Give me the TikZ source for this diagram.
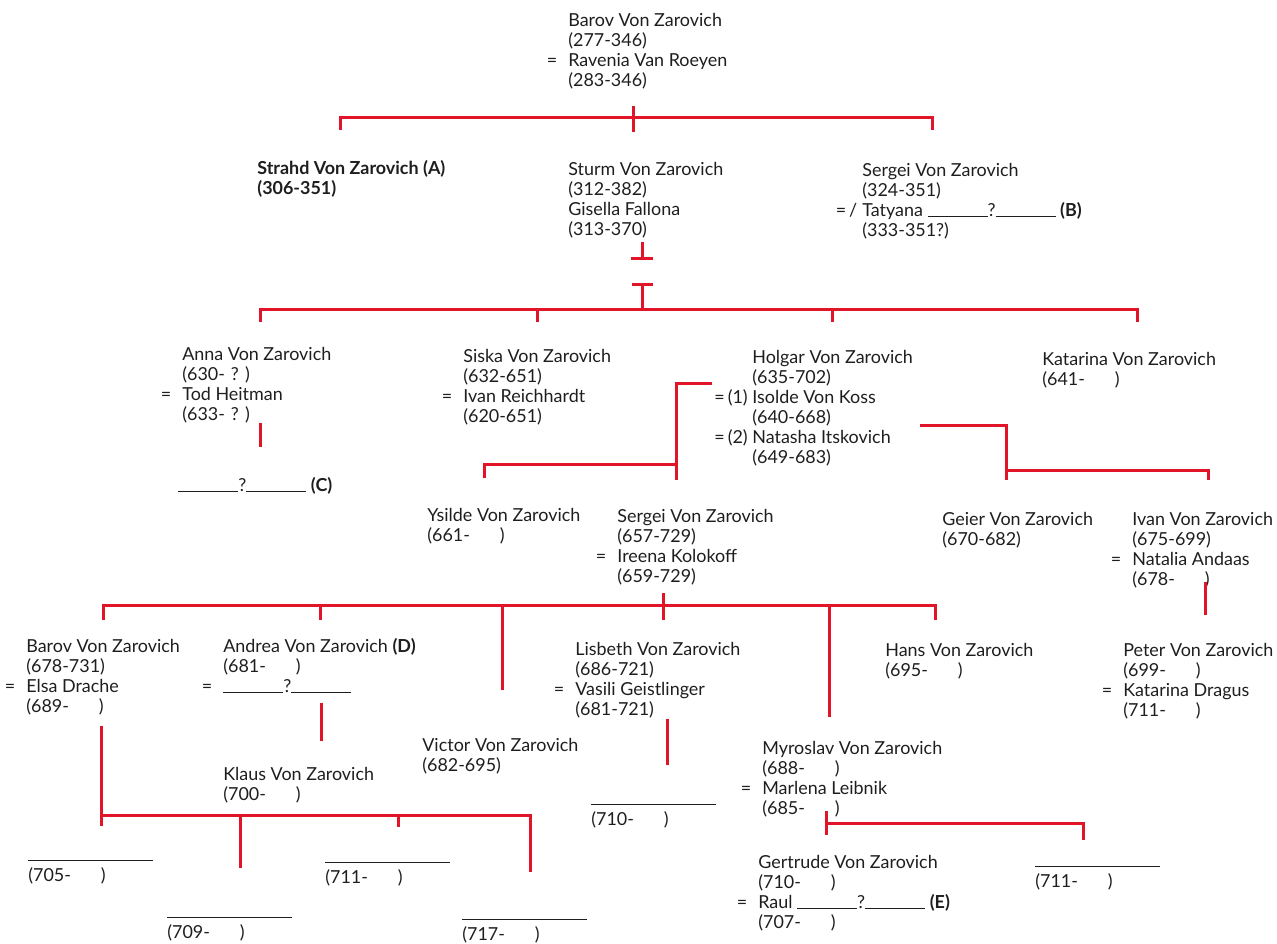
\documentclass[tikz,border=0pt]{standalone}
\usepackage{fontspec}
\setmainfont{Lato}
\definecolor{famred}{RGB}{226,20,40}
\definecolor{ink}{RGB}{30,30,30}
\newcommand{\unk}{\rule[-0.3pt]{12mm}{0.5pt}}
\newcommand{\spouse}{\llap{=\hspace{2.2mm}}}
\newcommand{\alive}{\hspace{6mm}}
\newcommand{\nameless}{\rule{25mm}{0.5pt}}
\begin{document}
\begin{tikzpicture}[x=0.2mm,y=-0.2mm,
    who/.style={anchor=north west,inner sep=0pt,align=left,text=ink,
      font=\fontsize{10.2}{11.4}\selectfont}]
  \useasboundingbox (0,0) rectangle (1277,943);
  % first generations
  \node[who] (barov) at (568,13) {Barov Von Zarovich\\(277-346)\\\spouse Ravenia Van Roeyen\\(283-346)};
  \node[who,font=\fontsize{10.2}{11.4}\selectfont\bfseries] (strahd) at (257,160) {Strahd Von Zarovich (A)\\(306-351)};
  \node[who] (sturm) at (568,162) {Sturm Von Zarovich\\(312-382)\\Gisella Fallona\\(313-370)};
  \node[who] (sergei) at (862,163) {Sergei Von Zarovich\\(324-351)\\\llap{=\,/\hspace{1mm}}Tatyana \unk?\unk\ \textbf{(B)}\\(333-351?)};
  \node[who] (anna) at (182,347) {Anna Von Zarovich\\(630-\hspace{1.2mm}?\hspace{1.2mm})\\\spouse Tod Heitman\\(633-\hspace{1.2mm}?\hspace{1.2mm})};
  \node[who] (annakid) at (178,477) {\unk?\unk\ \textbf{(C)}};
  \node[who] (siska) at (463,349) {Siska Von Zarovich\\(632-651)\\\spouse Ivan Reichhardt\\(620-651)};
  \node[who] (holgar) at (752,350) {Holgar Von Zarovich\\(635-702)\\\llap{=\,(1)\ }Isolde Von Koss\\(640-668)\\\llap{=\,(2)\ }Natasha Itskovich\\(649-683)};
  \node[who] (katarina) at (1042,352) {Katarina Von Zarovich\\(641-\alive)};
  % Holgar's children
  \node[who] (ysilde) at (427,508) {Ysilde Von Zarovich\\(661-\alive)};
  \node[who] (sergeii) at (617,509) {Sergei Von Zarovich\\(657-729)\\\spouse Ireena Kolokoff\\(659-729)};
  \node[who] (geier) at (942,512) {Geier Von Zarovich\\(670-682)};
  \node[who] (ivan) at (1132,512) {Ivan Von Zarovich\\(675-699)\\\spouse Natalia Andaas\\(678-\alive)};
  % Sergei's children
  \node[who] (baroviii) at (26,639) {Barov Von Zarovich\\(678-731)\\\spouse Elsa Drache\\(689-\alive)};
  \node[who] (andrea) at (223,638) {Andrea Von Zarovich \textbf{(D)}\\(681-\alive)\\\spouse\unk?\unk};
  \node[who] (lisbeth) at (575,642) {Lisbeth Von Zarovich\\(686-721)\\\spouse Vasili Geistlinger\\(681-721)};
  \node[who] (hans) at (885,643) {Hans Von Zarovich\\(695-\alive)};
  \node[who] (peter) at (1123,643) {Peter Von Zarovich\\(699-\alive)\\\spouse Katarina Dragus\\(711-\alive)};
  \node[who] (victor) at (422,738) {Victor Von Zarovich\\(682-695)};
  \node[who] (klaus) at (223,767) {Klaus Von Zarovich\\(700-\alive)};
  \node[who] (myroslav) at (762,741) {Myroslav Von Zarovich\\(688-\alive)\\\spouse Marlena Leibnik\\(685-\alive)};
  \node[who] (gertrude) at (758,855) {Gertrude Von Zarovich\\(710-\alive)\\\spouse Raul \unk?\unk\ \textbf{(E)}\\(707-\alive)};
  % unnamed children
  \node[who] (kid705) at (28,860) {\nameless\\(705-\alive)};
  \node[who] (kid709) at (167,917) {\nameless\\(709-\alive)};
  \node[who] (kid711) at (325,862) {\nameless\\(711-\alive)};
  \node[who] (kid717) at (462,919) {\nameless\\(717-\alive)};
  \node[who] (kid710) at (591,804) {\nameless\\(710-\alive)};
  \node[who] (kid711b) at (1035,866) {\nameless\\(711-\alive)};
  \begin{scope}[famred,line width=0.6mm]
    \draw (340,130) coordinate (s1) -- (340,117) -- (932,117) -- (932,130) coordinate (s3);
    \draw (633,106) -- (633,132);
    \draw (642,242) -- (642,258) (631,258) -- (653,258);
    \draw (632,284) -- (653,284) (642,284) -- (642,309);
    \draw (260,322) coordinate (h1) -- (260,309) -- (1137,309) -- (1137,322) coordinate (h4);
    \foreach \x in {537,832}
      \draw (\x,309) -- (\x,322);
    \draw (260,423) -- (260,447);
    \draw (712,383) -- (676,383) -- (676,480);
    \draw (484,478) -- (484,464) -- (676,464);
    \draw (920,425) -- (1006,425) -- (1006,480);
    \draw (1006,470) -- (1208,470) -- (1208,480);
    \draw (663,593) -- (663,620);
    \draw (103,620) -- (103,605) -- (935,605) -- (935,620);
    \draw (320,605) -- (320,620);
    \draw (502,605) -- (502,690);
    \draw (829,605) -- (829,717);
    \draw (1205,582) -- (1205,615);
    \draw (101,726) -- (101,826);
    \draw (101,815) -- (530,815) -- (530,872);
    \draw (240,815) -- (240,868);
    \draw (398,815) -- (398,827);
    \draw (321,703) -- (321,741);
    \draw (667,719) -- (667,765);
    \draw (826,811) -- (826,835);
    \draw (826,823) -- (1083,823) -- (1083,840);
  \end{scope}
\end{tikzpicture}
\end{document}
